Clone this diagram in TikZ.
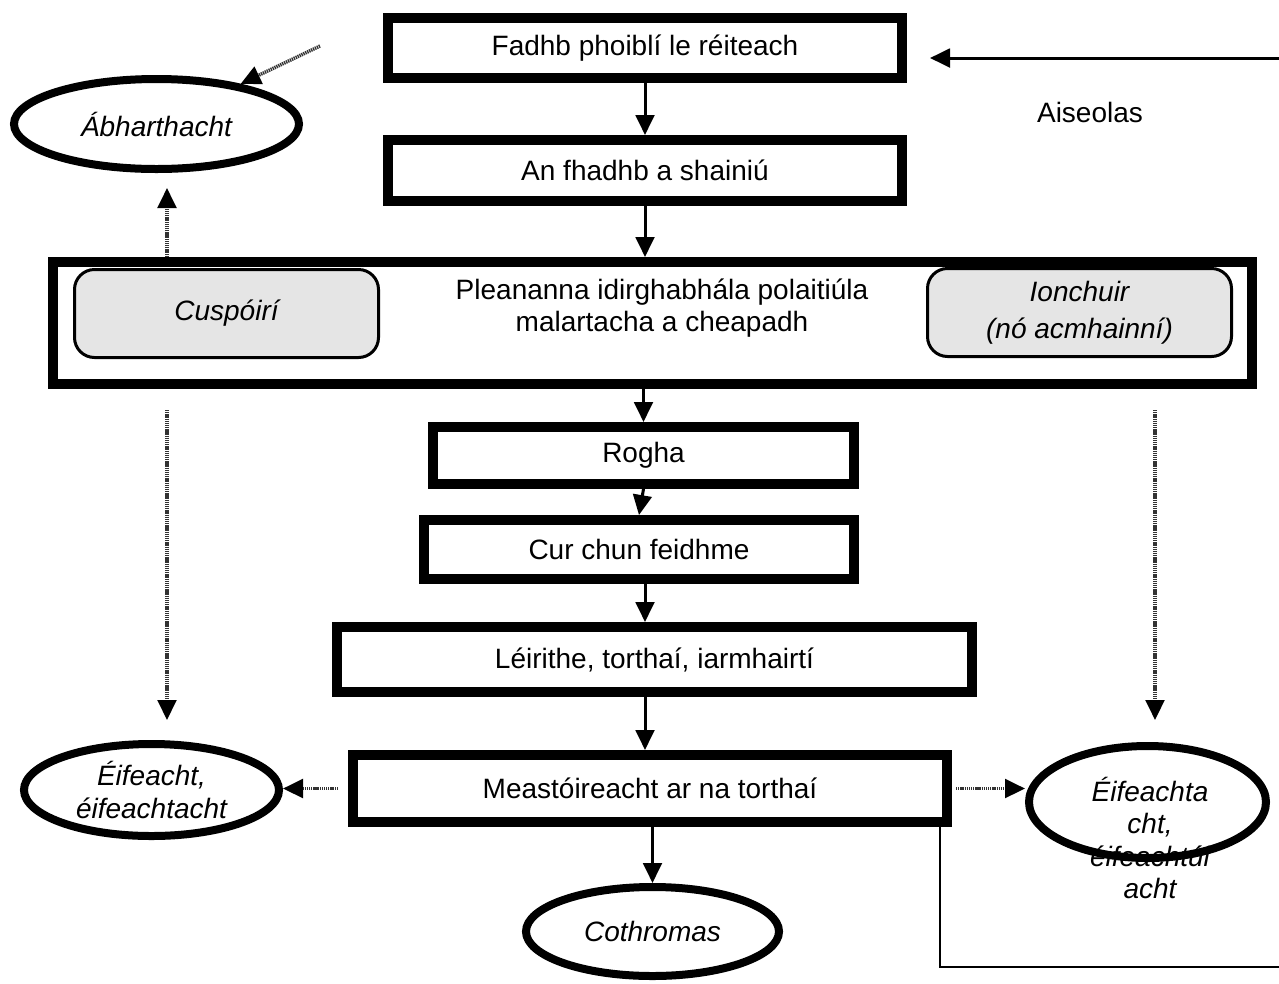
\documentclass[tikz,border=0pt]{standalone}
\usepackage{fontspec}
\setmainfont{Liberation Sans}
\usetikzlibrary{shapes.geometric,arrows.meta}
\begin{document}
\begin{tikzpicture}[x=0.75pt,y=-0.75pt,
  font=\fontsize{21}{24.5}\selectfont,
  box/.style={draw,line width=7.5pt,rectangle,inner sep=0pt,align=center},
  soft/.style={draw,line width=2.25pt,rounded corners=15pt,fill=black!10,inner sep=0pt,align=center,
    font=\fontsize{21}{27.5}\selectfont\itshape,minimum width=228pt,minimum height=66pt},
  oval/.style={draw,ellipse,line width=6pt,inner sep=0pt,align=center,
    font=\fontsize{21}{24.5}\selectfont\itshape},
  flow/.style={line width=2.25pt,-{Triangle[length=15pt,width=14pt]}},
  dot/.style={line width=2.6pt,draw=black!80,dash pattern=on 1pt off 0.6pt,
    -{Triangle[length=15pt,width=14pt,color=black]}},
  fine/.style={line width=1.5pt}
]
\useasboundingbox (0,0) rectangle (1279,983);

% main boxes
\node[box,minimum width=385.5pt,minimum height=45pt] (b1) at (645,48) {Fadhb phoiblí le réiteach};
\node[box,minimum width=385.5pt,minimum height=45.75pt] (b2) at (645,170.5) {An fhadhb a shainiú};
\node[box,minimum width=899.25pt,minimum height=91.5pt] (big) at (652.5,323) {};
\node[align=center] (plan) at (662,308) {Pleananna idirghabhála polaitiúla\\malartacha a cheapadh};
\node[soft] (cusp) at (226.5,313.5) {Cuspóirí};
\node[soft] (ion) at (1079.5,312.5) {Ionchuir\\(nó acmhainní)};
\node[box,minimum width=315.75pt,minimum height=42.75pt] (rogha) at (643.5,455.5) {Rogha};
\node[box,minimum width=322.5pt,minimum height=44.25pt] (cur) at (639,549.5) {Cur chun feidhme};
\node[box,minimum width=476.25pt,minimum height=48.75pt] (leir) at (654.5,659.5) {Léirithe, torthaí, iarmhairtí};
\node[box,minimum width=445.5pt,minimum height=50.25pt] (meas) at (650,788.5) {Meastóireacht ar na torthaí};

% ovals
\node[oval,minimum width=213.75pt,minimum height=67.5pt] (abh) at (156.5,124) {Ábharthacht};
\node[oval,minimum width=191.25pt,minimum height=69pt] (eif) at (151.5,790) {Éifeacht,\\éifeachtacht};
\node[oval,minimum width=177.75pt,minimum height=84pt] (eift) at (1147.5,802) {};
\node[align=center,font=\fontsize{21}{24.4}\selectfont\itshape] (eiftxt) at (1150,838) {Éifeachta\\cht,\\éifeachtúl\\acht};
\node[oval,minimum width=189.75pt,minimum height=66.75pt] (coth) at (652.5,931.5) {Cothromas};

\node (ais) at (1090,112) {Aiseolas};

% helper coordinates
\coordinate (ax) at (645,0);
\coordinate (tl) at (320,46);
\coordinate (a1) at (167,188);
\coordinate (l1) at (167,410);
\coordinate (l2) at (167,720);
\coordinate (r1) at (1155,410);
\coordinate (r2) at (1155,720);
\coordinate (fbx) at (940,0);
\coordinate (fbR) at (1279,967);
\coordinate (fbT) at (1279,58);
\coordinate (fbTip) at (930,58);

% solid flow
\draw[flow] (b1) -- (b2);
\draw[flow] (b2.south) -- (b2.south |- big.north);
\draw[flow] (rogha.north |- big.south) -- (rogha.north);
\draw[flow] (rogha.south) -- (cur.north);
\draw[flow] (ax |- cur.south) -- (ax |- leir.north);
\draw[flow] (ax |- leir.south) -- (ax |- meas.north);
\draw[flow] (coth.north |- meas.south) -- (coth.north);

% dotted arrows
\draw[dot] (tl) -- (abh);
\draw[dot] (a1 |- big.north) -- (a1);
\draw[dot] (l1) -- (l2);
\draw[dot] (r1) -- (r2);
\draw[dot,shorten <=7.5pt] (meas.west) -- (meas.west -| eif.east);
\draw[dot,shorten <=3pt] (meas.east) -- (meas.east -| eift.west);

% feedback
\draw[fine] (fbx |- meas.south) -- (fbx |- fbR) -- (fbR);
\draw[flow] (fbT) -- (fbTip);
\end{tikzpicture}
\end{document}
